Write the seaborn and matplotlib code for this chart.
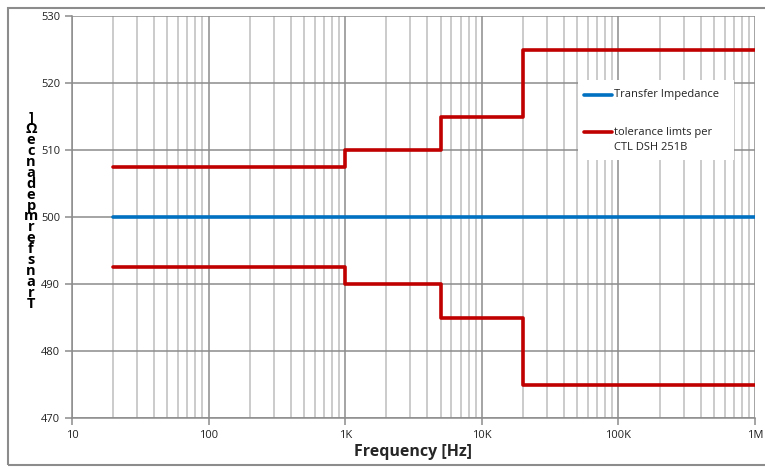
import numpy as np
import pandas as pd
import matplotlib
matplotlib.use("Agg")
import matplotlib.pyplot as plt
import seaborn as sns
from matplotlib.ticker import LogLocator, FixedLocator, NullFormatter
from matplotlib.patches import Rectangle

# Step edges (Hz) and the level held from each edge to the next
freq_edges = [20, 1e3, 5e3, 20e3, 1e6]
impedance = [500, 500, 500, 500, 500]
upper_limit = [507.5, 510, 515, 525, 525]
lower_limit = [492.5, 490, 485, 475, 475]

x_ticks = [10, 100, 1e3, 1e4, 1e5, 1e6]
x_tick_labels = ["10", "100", "1K", "10K", "100K", "1M"]
y_ticks = [470, 480, 490, 500, 510, 520, 530]

df = pd.DataFrame({
    "freq": freq_edges * 3,
    "value": impedance + upper_limit + lower_limit,
    "series": (["Transfer Impedance"] * 5
               + ["tolerance limts per\nCTL DSH 251B"] * 5
               + ["lower"] * 5),
})

sns.set_theme(style="white")
plt.rcParams["font.family"] = ["Open Sans", "DejaVu Sans"]

fig = plt.figure(figsize=(7.65, 4.68), dpi=100)
ax = fig.add_axes([72 / 765, 1 - 418 / 468, (755 - 72) / 765, (418 - 16) / 468])

palette = {"Transfer Impedance": "#0070C0",
           "tolerance limts per\nCTL DSH 251B": "#C00000",
           "lower": "#C00000"}
sns.lineplot(data=df, x="freq", y="value", hue="series", palette=palette,
             drawstyle="steps-post", linewidth=2.6, ax=ax, legend=False,
             zorder=3)

ax.set_xscale("log")
ax.set_xlim(10, 1e6)
ax.set_ylim(470, 530)
ax.xaxis.set_major_locator(FixedLocator(x_ticks))
ax.set_xticklabels(x_tick_labels)
ax.xaxis.set_minor_locator(LogLocator(base=10, subs=np.arange(2, 10)))
ax.xaxis.set_minor_formatter(NullFormatter())
ax.set_yticks(y_ticks)

ax.grid(True, which="major", axis="both", color="#8c8c8c", linewidth=1.1)
ax.grid(True, which="minor", axis="x", color="#bdbdbd", linewidth=1.1)
ax.set_axisbelow(True)

for side in ["top", "right"]:
    ax.spines[side].set_visible(False)
for side in ["left", "bottom"]:
    ax.spines[side].set_color("#8c8c8c")
    ax.spines[side].set_linewidth(1.1)

ax.tick_params(axis="both", which="major", labelsize=8, colors="#8c8c8c",
               labelcolor="#222222", length=5, width=1.1, direction="out",
               left=True, bottom=True)
ax.tick_params(axis="x", which="major", pad=4)
ax.tick_params(axis="x", which="minor", length=0)

ax.set_xlabel("Frequency [Hz]", fontsize=11.5, fontweight="bold", labelpad=2)
ax.set_ylabel("")

# stacked vertical axis title
fig.text(31 / 765, 1 - 211 / 468, "\n".join("]Ωecnadepmrefsnar") + "\nT",
         fontsize=10.5, fontweight="bold", ha="center", va="center",
         linespacing=0.72, color="black")

# legend box
fig.add_artist(Rectangle((578 / 765, 1 - 160 / 468), 156 / 765, 80 / 468,
                         transform=fig.transFigure, facecolor="white",
                         edgecolor="none", zorder=5))
fig.add_artist(plt.Line2D([584 / 765, 612 / 765], [1 - 95 / 468] * 2,
                          transform=fig.transFigure, color="#0070C0",
                          linewidth=2.6, zorder=6))
fig.text(614 / 765, 1 - 95 / 468, "Transfer Impedance", fontsize=8,
         va="center", ha="left", zorder=6, color="#222222")
fig.add_artist(plt.Line2D([584 / 765, 612 / 765], [1 - 132 / 468] * 2,
                          transform=fig.transFigure, color="#C00000",
                          linewidth=2.6, zorder=6))
fig.text(614 / 765, 1 - 132 / 468, "tolerance limts per", fontsize=8,
         va="center", ha="left", zorder=6, color="#222222")
fig.text(614 / 765, 1 - 148 / 468, "CTL DSH 251B", fontsize=8,
         va="center", ha="left", zorder=6, color="#222222")

# outer chart frame
fig.add_artist(Rectangle((8 / 765, 1 - 465 / 468), 800 / 765, 457 / 468,
                         transform=fig.transFigure, facecolor="none",
                         edgecolor="#8c8c8c", linewidth=1.5, zorder=0))

fig.savefig("out.png", dpi=100)
